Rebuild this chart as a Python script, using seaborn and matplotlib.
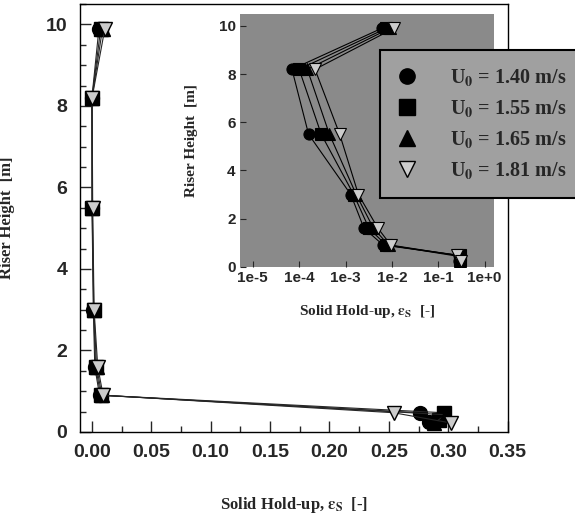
import matplotlib
matplotlib.use("Agg")
import matplotlib.pyplot as plt
from matplotlib.lines import Line2D
from matplotlib.ticker import MultipleLocator
import seaborn as sns


# ---------------------------------------------------------
# data (solid hold-up vs riser height)
# ---------------------------------------------------------
velocities = ["1.40", "1.55", "1.65", "1.81"]

height_140 = [9.9, 8.2, 5.5, 3.0, 1.6, 0.9, 0.47, 0.25]
holdup_140 = [0.0060, 0.00007, 0.00016, 0.0013, 0.0025, 0.0065, 0.276, 0.284]

height_155 = [9.9, 8.2, 5.5, 3.0, 1.6, 0.9, 0.47, 0.28]
holdup_155 = [0.0075, 0.00010, 0.00030, 0.0015, 0.0032, 0.0075, 0.296, 0.292]

height_165 = [9.9, 8.2, 5.5, 3.0, 1.6, 0.9, 0.42, 0.22]
holdup_165 = [0.0090, 0.00015, 0.00045, 0.0017, 0.0040, 0.0085, 0.298, 0.288]

height_181 = [9.9, 8.2, 5.5, 3.0, 1.6, 0.9, 0.47, 0.22]
holdup_181 = [0.0110, 0.00022, 0.00075, 0.0019, 0.0050, 0.0095, 0.254, 0.302]

series = [
    (holdup_140, height_140),
    (holdup_155, height_155),
    (holdup_165, height_165),
    (holdup_181, height_181),
]

log_ticks = [1e-5, 1e-4, 1e-3, 1e-2, 1e-1, 1e0]
log_tick_labels = ["1e-5", "1e-4", "1e-3", "1e-2", "1e-1", "1e+0"]

# ---------------------------------------------------------
# style
# ---------------------------------------------------------
sns.set_style("ticks")
plt.rcParams["font.family"] = ["Liberation Sans", "DejaVu Sans"]
plt.rcParams["mathtext.fontset"] = "stix"
plt.rcParams["mathtext.default"] = "bf"

marker_styles = ["o", "s", "^", "v"]
face_colors = ["k", "k", "k", "0.8"]
serif = ["Liberation Serif", "DejaVu Serif"]

fig = plt.figure(figsize=(5.75, 5.16), dpi=100)

# main axes
ax = fig.add_axes([0.139, 0.163, 0.744, 0.829])
for (x, y), m, fc in zip(series, marker_styles, face_colors):
    sns.lineplot(x=x, y=y, sort=False, estimator=None, ax=ax,
                 color="0.15", linewidth=0.8, marker=m, markersize=10,
                 markerfacecolor=fc, markeredgecolor="k",
                 markeredgewidth=1.0)

ax.set_xlim(-0.01, 0.35)
ax.set_ylim(0, 10.5)
ax.xaxis.set_major_locator(MultipleLocator(0.05))
ax.xaxis.set_minor_locator(MultipleLocator(0.025))
ax.yaxis.set_major_locator(MultipleLocator(2))
ax.yaxis.set_minor_locator(MultipleLocator(0.5))
ax.xaxis.set_major_formatter(plt.FormatStrFormatter("%.2f"))
ax.tick_params(which="major", direction="in", length=8, width=1,
               labelsize=14, pad=9)
ax.tick_params(which="minor", direction="in", length=4, width=1)
ax.tick_params(top=False, right=False, which="both")
for lab in ax.get_xticklabels() + ax.get_yticklabels():
    lab.set_fontweight("bold")
for sp in ax.spines.values():
    sp.set_linewidth(1.0)
    sp.set_color("k")

ax.set_xlabel(r"Solid Hold-up, $\varepsilon_S$  [-]", family=serif,
              fontweight="bold", fontsize=12)
ax.set_ylabel("Riser Height  [m]", family=serif, fontweight="bold",
              fontsize=12)
ax.xaxis.set_label_coords(0.5, -0.148)
ax.yaxis.set_label_coords(-0.152, 0.5)

# inset (log scale)
ins = fig.add_axes([0.417, 0.483, 0.442, 0.490])
ins.set_facecolor("#8a8a8a")
for (x, y), m, fc in zip(series, marker_styles, face_colors):
    sns.lineplot(x=x, y=y, sort=False, estimator=None, ax=ins,
                 color="k", linewidth=0.8, marker=m, markersize=8,
                 markerfacecolor=fc, markeredgecolor="k",
                 markeredgewidth=0.8)

ins.set_xscale("log")
ins.set_xlim(10 ** -5.28, 10 ** 0.2)
ins.set_ylim(0, 10.5)
ins.set_xticks(log_ticks)
ins.set_xticklabels(log_tick_labels)
ins.minorticks_off()
ins.yaxis.set_major_locator(MultipleLocator(2))
ins.tick_params(direction="in", length=4, labelsize=11, pad=3)
for lab in ins.get_xticklabels() + ins.get_yticklabels():
    lab.set_fontweight("bold")
for sp in ins.spines.values():
    sp.set_visible(False)
ins.set_xlabel(r"Solid Hold-up, $\varepsilon_S$  [-]", family=serif,
               fontweight="bold", fontsize=11)
ins.set_ylabel("Riser Height  [m]", family=serif, fontweight="bold",
               fontsize=11)
ins.xaxis.set_label_coords(0.5, -0.142)
ins.yaxis.set_label_coords(-0.165, 0.5)

# legend (runs off the right edge, as in the original)
handles = [
    Line2D([], [], linestyle="none", marker=m, markersize=11,
           markerfacecolor=fc, markeredgecolor="k")
    for m, fc in zip(marker_styles, face_colors)
]
labels = [f"U$_0$ = {v} m/s" for v in velocities]
leg = fig.legend(handles, labels, loc="upper left",
                 bbox_to_anchor=(0.661, 0.903), frameon=True,
                 fancybox=False, borderpad=0.85, labelspacing=0.5,
                 handlelength=1.0, handletextpad=1.6, borderaxespad=0,
                 prop={"family": serif, "weight": "bold", "size": 14.5})
leg.get_frame().set_facecolor("#a0a0a0")
leg.get_frame().set_edgecolor("k")
leg.get_frame().set_linewidth(1.5)
leg.get_frame().set_alpha(1)

fig.savefig("out.png", dpi=100)
